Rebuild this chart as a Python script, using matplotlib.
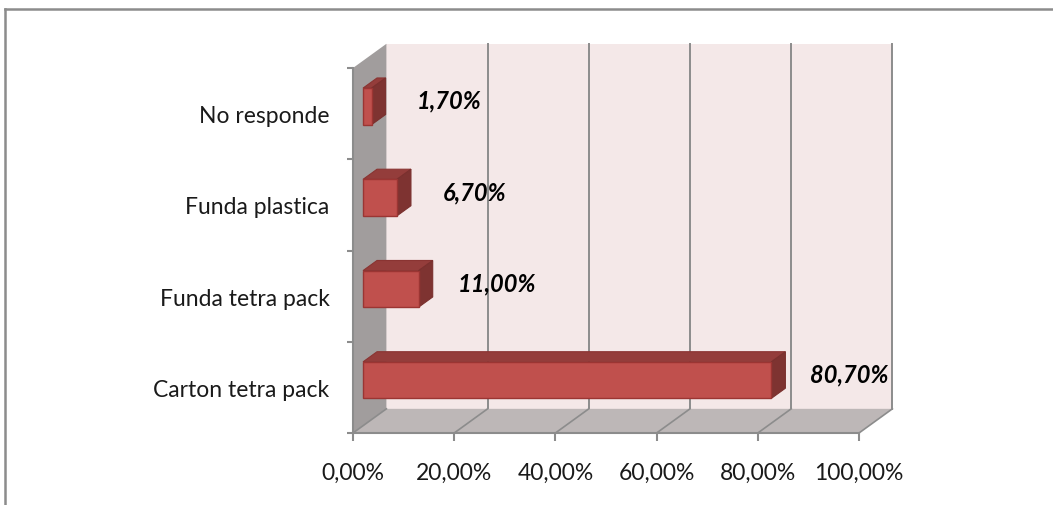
import matplotlib.pyplot as plt
from matplotlib.patches import Polygon

plt.rcParams['font.family'] = ['Lato', 'DejaVu Sans']

# datos
categorias = ['Carton tetra pack', 'Funda tetra pack', 'Funda plastica', 'No responde']
valores = [80.7, 11.0, 6.7, 1.7]
etiquetas = ['80,70%', '11,00%', '6,70%', '1,70%']
ticks_x = [0, 20, 40, 60, 80, 100]
ticks_x_txt = ['0,00%', '20,00%', '40,00%', '60,00%', '80,00%', '100,00%']

# profundidad del efecto 3D en unidades de datos
DX = 6.6
DY = 0.265


def p(x, y, d):
    return (x + d * DX, y + d * DY)


fig = plt.figure(figsize=(10.53, 5.06), dpi=100)
ax = fig.add_axes([353 / 1053, 1 - 434 / 506, 506 / 1053, 365 / 506])
ax.set_xlim(0, 100)
ax.set_ylim(-0.5, 3.5)
ax.patch.set_visible(False)

gris = '#8C8C8C'
y0, y1 = -0.5, 3.5

# pared del fondo
ax.add_patch(Polygon([p(0, y0, 1), p(100, y0, 1), p(100, y1, 1), p(0, y1, 1)],
                     closed=True, fc='#F4E8E8', ec='none', clip_on=False, zorder=1))
for t in ticks_x[1:]:
    ax.plot([p(t, y0, 1)[0], p(t, y1, 1)[0]], [p(t, y0, 1)[1], p(t, y1, 1)[1]],
            color=gris, lw=1.4, clip_on=False, zorder=2)

# pared lateral
ax.add_patch(Polygon([p(0, y0, 0), p(0, y1, 0), p(0, y1, 1), p(0, y0, 1)],
                     closed=True, fc='#A19D9D', ec='none', clip_on=False, zorder=3))
# piso
ax.add_patch(Polygon([p(0, y0, 0), p(100, y0, 0), p(100, y0, 1), p(0, y0, 1)],
                     closed=True, fc='#BDB7B7', ec='none', clip_on=False, zorder=3))
for t in ticks_x:
    ax.plot([p(t, y0, 0)[0], p(t, y0, 1)[0]], [p(t, y0, 0)[1], p(t, y0, 1)[1]],
            color=gris, lw=1.2, clip_on=False, zorder=4)

# barras
d0, d1 = 0.3, 0.72
h = 0.2
for i, v in enumerate(valores):
    top = [p(0, i + h, d0), p(v, i + h, d0), p(v, i + h, d1), p(0, i + h, d1)]
    side = [p(v, i - h, d0), p(v, i + h, d0), p(v, i + h, d1), p(v, i - h, d1)]
    front = [p(0, i - h, d0), p(v, i - h, d0), p(v, i + h, d0), p(0, i + h, d0)]
    ax.add_patch(Polygon(top, closed=True, fc='#943D3B', ec='#8A3432', lw=0.8,
                         clip_on=False, zorder=5))
    ax.add_patch(Polygon(side, closed=True, fc='#7E3331', ec='#7A302E', lw=0.8,
                         clip_on=False, zorder=5))
    ax.add_patch(Polygon(front, closed=True, fc='#C0504D', ec='#9B3533', lw=1.0,
                         clip_on=False, zorder=6))
    lx, ly = p(v, i, d1)
    ax.annotate(etiquetas[i], (lx, ly), xytext=(46, -3), textcoords='offset points',
                ha='center', va='center', fontsize=17, fontweight='bold',
                fontstyle='italic', color='black', zorder=7, annotation_clip=False)

# ejes
for s in ['top', 'right']:
    ax.spines[s].set_visible(False)
for s in ['left', 'bottom']:
    ax.spines[s].set_color(gris)
    ax.spines[s].set_linewidth(1.5)
    ax.spines[s].set_zorder(4)

ax.set_xticks(ticks_x)
ax.set_xticklabels(ticks_x_txt)
ax.tick_params(axis='x', length=6, width=1.5, color=gris, pad=15,
               labelsize=16.5, labelcolor='#1A1A1A')
ax.set_yticks(range(len(categorias)))
ax.set_yticklabels(categorias)
ax.set_yticks([-0.5, 0.5, 1.5, 2.5, 3.5], minor=True)
ax.tick_params(axis='y', which='major', length=0, pad=17, labelsize=16.5,
               labelcolor='#1A1A1A')
ax.tick_params(axis='y', which='minor', length=4.5, width=1.5, color=gris)

# marco exterior
fig.add_artist(plt.Line2D([5 / 1053, 5 / 1053], [0, 1 - 10 / 506], color=gris, lw=1.8))
fig.add_artist(plt.Line2D([5 / 1053, 1], [1 - 10 / 506, 1 - 10 / 506], color=gris, lw=1.8))

fig.savefig('out.png', dpi=100)
